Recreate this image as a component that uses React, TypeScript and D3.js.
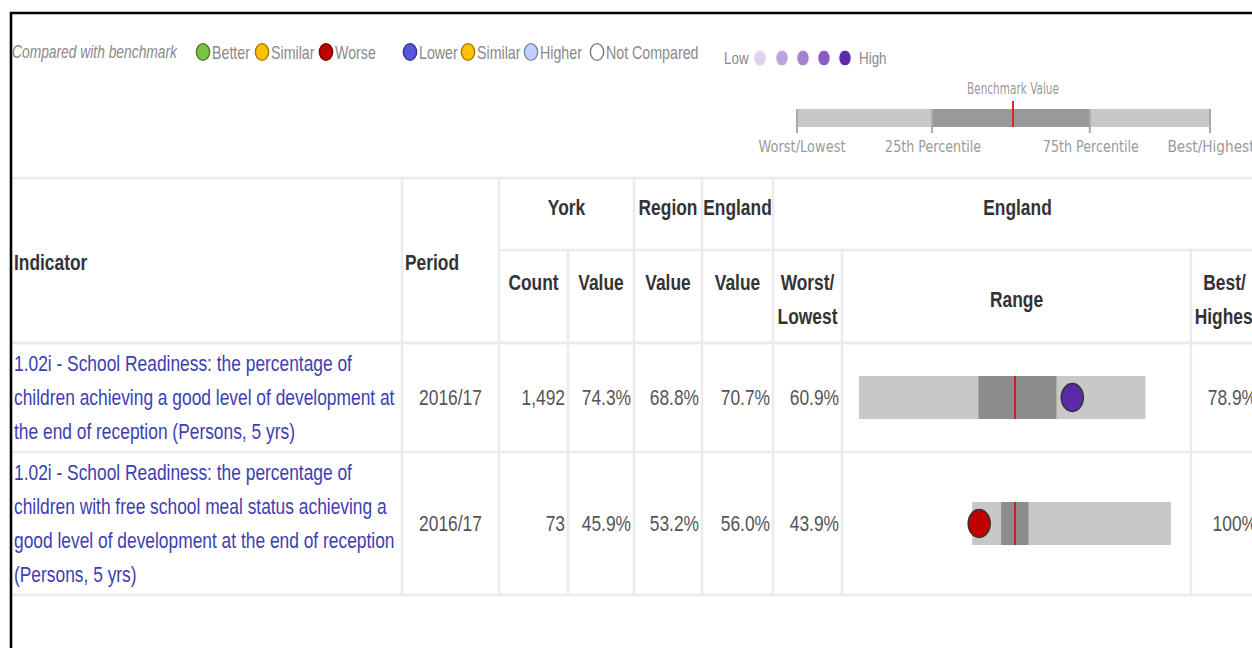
import React from 'react';
import * as d3 from 'd3';

// rows of the indicator table
const indicatorLines = [
  ['1.02i - School Readiness: the percentage of', 'children achieving a good level of development at', 'the end of reception (Persons, 5 yrs)'],
  ['1.02i - School Readiness: the percentage of', 'children with free school meal status achieving a', 'good level of development at the end of reception', '(Persons, 5 yrs)'],
];
const periods = ['2016/17', '2016/17'];
const counts = [1492, 73];
const yorkValues = [74.3, 45.9];
const regionValues = [68.8, 53.2];
const englandValues = [70.7, 56.0];
const worstValues = [60.9, 43.9];
const q25Values = [68.4, 52.1];
const q75Values = [73.3, 59.8];
const bestValues = [78.9, 100];
const significance = ['q5', 'worse'];

// legend
const benchmarkLegend = ['Better', 'Similar', 'Worse'];
const directionLegend = ['Lower', 'Similar', 'Higher', 'Not Compared'];
const quintileLegend = ['Low', 'High'];
const keyLabels = ['Worst/Lowest', '25th Percentile', '75th Percentile', 'Best/Highest'];

const SX = 0.79; // the page was squeezed horizontally
const FONT = '"Liberation Sans", Arial, Helvetica, sans-serif';

const colors: Record<string, string> = {
  Better: '#7cc142',
  Similar: '#ffc000',
  Worse: '#c00000',
  Lower: '#5555e0',
  Higher: '#bed2ff',
  'Not Compared': '#ffffff',
  worse: '#c00000',
  q5: '#5b2aa8',
};
const quintileColors = ['#ddd2ec', '#c0a3dd', '#a582cf', '#8a5cc3', '#5b2aa8'];

function Label({ x, y, anchor = 'start', size = 22, weight = 400, fill = '#333', italic = false, children }: any) {
  return (
    <text
      transform={`translate(${x},${y}) scale(${SX},1)`}
      textAnchor={anchor}
      fontSize={size}
      fontWeight={weight}
      fontStyle={italic ? 'italic' : 'normal'}
      fill={fill}
      fontFamily={FONT}
    >
      {children}
    </text>
  );
}

function Dot({ cx, cy, r, fill, stroke, sw = 1.4 }: any) {
  const s = stroke || (fill === '#ffffff' ? '#777' : d3.color(fill)!.darker(1.3).formatHex());
  return <ellipse cx={cx} cy={cy} rx={r * SX} ry={r} fill={fill} stroke={s} strokeWidth={sw} />;
}

export default function App() {
  const width = 1252;
  const height = 648;

  // table layout
  const cols = [12, 402, 499, 568, 634, 702, 773, 842, 1191, 1262];
  const headTop = 178;
  const headMid = 250;
  const headBot = 343;
  const lineH = 34;
  const rowTops: number[] = [];
  let yy = headBot;
  indicatorLines.forEach((lines) => {
    rowTops.push(yy);
    yy += lines.length * lineH + 7;
  });
  const tableBottom = yy;
  const rowMid = (i: number) => rowTops[i] + (indicatorLines[i].length * lineH + 7) / 2;

  const pct = (v: number) => (v === 100 ? '100%' : d3.format('.1f')(v) + '%');
  const fmtCount = d3.format(',');

  const rangeMid = (cols[7] + cols[8]) / 2 - 1.5;
  const halfW = 156;
  const barH = 43;

  // legend key
  const keyX = d3.scaleLinear().domain([0, 100]).range([797, 1210]);
  const keyStops = [0, 32.7, 70.9, 100];
  const keyBench = 52.3;

  const gridColor = '#ebebeb';
  const grey = '#8a8a8a';

  const benchX = [203, 262, 326];
  const dirX = [410, 468, 531, 597];
  const quintX = [760, 782, 803, 824, 845];

  return (
    <svg width={width} height={height} style={{ position: 'absolute', left: 0, top: 0, background: '#fff' }}>
      <rect width={width} height={height} fill="#fff" />

      {/* legend */}
      <Label x={12} y={58} size={17.5} italic fill={grey}>Compared with benchmark</Label>
      {benchmarkLegend.map((d, i) => (
        <g key={'b' + i}>
          <Dot cx={benchX[i]} cy={52} r={8.4} fill={colors[d]} />
          <Label x={benchX[i] + 9} y={58.5} size={18} fill={grey}>{d}</Label>
        </g>
      ))}
      {directionLegend.map((d, i) => (
        <g key={'d' + i}>
          <Dot cx={dirX[i]} cy={52} r={8.4} fill={colors[d]} />
          <Label x={dirX[i] + 9} y={58.5} size={18} fill={grey}>{d}</Label>
        </g>
      ))}
      <Label x={724} y={64} size={17} fill={grey}>{quintileLegend[0]}</Label>
      {quintileColors.map((c, i) => (
        <Dot key={'q' + i} cx={quintX[i]} cy={58} r={7.8} fill={c} stroke="#fff" sw={0.8} />
      ))}
      <Label x={859} y={64} size={17} fill={grey}>{quintileLegend[1]}</Label>

      {/* box key */}
      <text x={keyX(keyBench)} y={94} textAnchor="middle" fontSize={15} fill="#9a9a9a" fontFamily='"DejaVu Sans", sans-serif'
        textLength={92} lengthAdjust="spacingAndGlyphs">Benchmark Value</text>
      <rect x={keyX(0)} y={109} width={keyX(100) - keyX(0)} height={18} fill="#c8c8c8" />
      <rect x={keyX(keyStops[1])} y={109} width={keyX(keyStops[2]) - keyX(keyStops[1])} height={18} fill="#999" />
      <line x1={keyX(keyBench)} x2={keyX(keyBench)} y1={101} y2={127} stroke="#e52525" strokeWidth={2} />
      {keyStops.map((s, i) => (
        <g key={'k' + i}>
          <line x1={keyX(s)} x2={keyX(s)} y1={109} y2={133} stroke="#aaa" strokeWidth={2} />
          <text x={keyX(s) + (i === 0 ? 5 : 1)} y={152} textAnchor="middle" fontSize={15} fill="#9a9a9a"
            fontFamily='"DejaVu Sans", sans-serif' textLength={i === 0 || i === 3 ? 87 : 96} lengthAdjust="spacingAndGlyphs">
            {keyLabels[i]}
          </text>
        </g>
      ))}

      {/* table grid */}
      <g stroke={gridColor} strokeWidth={2.5}>
        <line x1={cols[0]} x2={width} y1={headTop} y2={headTop} />
        <line x1={cols[2]} x2={width} y1={headMid} y2={headMid} />
        <line x1={cols[0]} x2={width} y1={headBot} y2={headBot} />
        {rowTops.map((t, i) => (
          <line key={'r' + i} x1={cols[0]} x2={width} y1={t} y2={t} />
        ))}
        <line x1={cols[0]} x2={width} y1={tableBottom} y2={tableBottom} />
        {[1, 2, 4, 5, 6].map((c) => (
          <line key={'v' + c} x1={cols[c]} x2={cols[c]} y1={headTop} y2={tableBottom} />
        ))}
        {[3, 7, 8].map((c) => (
          <line key={'w' + c} x1={cols[c]} x2={cols[c]} y1={headMid} y2={tableBottom} />
        ))}
      </g>

      {/* headers */}
      <g>
        <Label x={14} y={270} weight={700}>Indicator</Label>
        <Label x={405} y={270} weight={700}>Period</Label>
        <Label x={(cols[2] + cols[4]) / 2} y={215} anchor="middle" weight={700}>York</Label>
        <Label x={(cols[4] + cols[5]) / 2} y={215} anchor="middle" weight={700}>Region</Label>
        <Label x={(cols[5] + cols[6]) / 2} y={215} anchor="middle" weight={700}>England</Label>
        <Label x={(cols[6] + cols[9]) / 2} y={215} anchor="middle" weight={700}>England</Label>
        <Label x={(cols[2] + cols[3]) / 2} y={290} anchor="middle" weight={700}>Count</Label>
        <Label x={(cols[3] + cols[4]) / 2} y={290} anchor="middle" weight={700}>Value</Label>
        <Label x={(cols[4] + cols[5]) / 2} y={290} anchor="middle" weight={700}>Value</Label>
        <Label x={(cols[5] + cols[6]) / 2} y={290} anchor="middle" weight={700}>Value</Label>
        <Label x={(cols[6] + cols[7]) / 2} y={290} anchor="middle" weight={700}>Worst/</Label>
        <Label x={(cols[6] + cols[7]) / 2} y={324} anchor="middle" weight={700}>Lowest</Label>
        <Label x={(cols[7] + cols[8]) / 2} y={307} anchor="middle" weight={700}>Range</Label>
        <Label x={(cols[8] + cols[9]) / 2 - 2} y={290} anchor="middle" weight={700}>Best/</Label>
        <Label x={(cols[8] + cols[9]) / 2} y={324} anchor="middle" weight={700}>Highest</Label>
      </g>

      {/* rows */}
      {indicatorLines.map((lines, i) => {
        const mid = rowMid(i);
        const base = mid + 7.5;
        const maxDev = Math.max(englandValues[i] - worstValues[i], bestValues[i] - englandValues[i]);
        const x = d3
          .scaleLinear()
          .domain([englandValues[i] - maxDev, englandValues[i] + maxDev])
          .range([rangeMid - halfW, rangeMid + halfW]);
        const lo = Math.min(worstValues[i], bestValues[i]);
        const hi = Math.max(worstValues[i], bestValues[i]);
        return (
          <g key={'row' + i}>
            {lines.map((l, j) => (
              <Label key={j} x={14} y={mid - ((lines.length - 1) / 2 - j) * lineH + 7.5} fill="#3e3eb2">{l}</Label>
            ))}
            <Label x={(cols[1] + cols[2]) / 2} y={base} anchor="middle" fill="#555">{periods[i]}</Label>
            <Label x={cols[3] - 3} y={base} anchor="end" fill="#555">{fmtCount(counts[i])}</Label>
            <Label x={cols[4] - 3} y={base} anchor="end" fill="#555">{pct(yorkValues[i])}</Label>
            <Label x={cols[5] - 3} y={base} anchor="end" fill="#555">{pct(regionValues[i])}</Label>
            <Label x={cols[6] - 3} y={base} anchor="end" fill="#555">{pct(englandValues[i])}</Label>
            <Label x={cols[7] - 3} y={base} anchor="end" fill="#555">{pct(worstValues[i])}</Label>
            <Label x={cols[9] - 5} y={base} anchor="end" fill="#555">{pct(bestValues[i])}</Label>

            <rect x={x(lo)} y={mid - barH / 2} width={x(hi) - x(lo)} height={barH} fill="#c8c8c8" />
            <rect x={x(q25Values[i])} y={mid - barH / 2} width={x(q75Values[i]) - x(q25Values[i])} height={barH} fill="#8c8c8c" />
            <line x1={x(englandValues[i])} x2={x(englandValues[i])} y1={mid - barH / 2} y2={mid + barH / 2} stroke="#d41d1d" strokeWidth={2} />
            <Dot cx={x(yorkValues[i])} cy={mid} r={14} fill={colors[significance[i]]} stroke="#333" />
          </g>
        );
      })}

      {/* frame */}
      <path d={`M11,${height} V13 H${width}`} fill="none" stroke="#000" strokeWidth={2.6} />
    </svg>
  );
}
